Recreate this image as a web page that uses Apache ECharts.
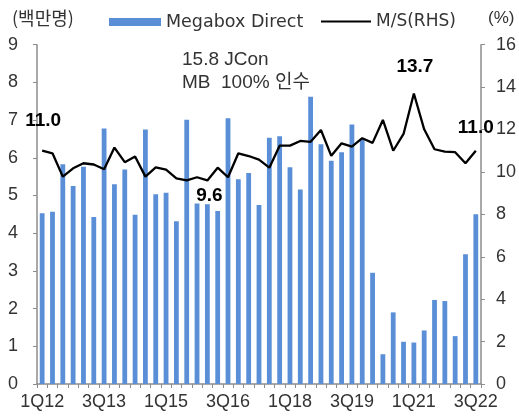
<!DOCTYPE html>
<html><head><meta charset="utf-8">
<script src="https://cdn.jsdelivr.net/npm/echarts@6/dist/echarts.min.js"></script>
<style>html,body{margin:0;padding:0;background:#fff}#c{width:519px;height:417px}</style>
</head><body><div id="c"></div>
<script>
const categories = ['1Q12','2Q12','3Q12','4Q12','1Q13','2Q13','3Q13','4Q13','1Q14','2Q14','3Q14','4Q14',
 '1Q15','2Q15','3Q15','4Q15','1Q16','2Q16','3Q16','4Q16','1Q17','2Q17','3Q17','4Q17',
 '1Q18','2Q18','3Q18','4Q18','1Q19','2Q19','3Q19','4Q19','1Q20','2Q20','3Q20','4Q20',
 '1Q21','2Q21','3Q21','4Q21','1Q22','2Q22','3Q22'];
const megaboxDirect = [4.53,4.57,5.83,5.25,5.76,4.43,6.78,5.30,5.69,4.49,6.75,5.03,
 5.07,4.32,7.01,4.79,4.77,4.59,7.05,5.43,5.60,4.75,6.53,6.57,
 5.75,5.16,7.62,6.36,5.92,6.15,6.88,6.50,2.95,0.79,1.90,1.12,
 1.10,1.42,2.23,2.20,1.27,3.44,4.50];
const marketShare = [11.0,10.88,9.78,10.17,10.41,10.35,10.13,11.15,10.46,10.73,9.78,10.22,
 10.11,9.70,9.6,9.75,9.6,10.20,9.75,10.88,10.75,10.58,10.20,11.24,
 11.24,11.46,11.42,11.98,10.76,11.35,11.19,11.59,11.37,12.45,11.0,11.79,
 13.7,12.01,11.07,10.96,10.93,10.41,11.0];
const labeledPoints = [0,16,36,42];
const leftTicks = [0,1,2,3,4,5,6,7,8,9];
const rightTicks = [0,2,4,6,8,10,12,14,16];

const labelOffsets = {0:['top',[1,-15]],16:['bottom',[2,1]],36:['top',[1,-12]],42:['top',[0,-8]]};
const lineData = marketShare.map((v,i)=>{
  if(labeledPoints.indexOf(i)<0) return v;
  const o = labelOffsets[i];
  return {value:v,label:{show:true,position:o[0],offset:o[1]}};
});
const AX='#8c8c8c';
const chart = echarts.init(document.getElementById('c'));
chart.setOption({
  animation:false,
  grid:{left:37,right:35,top:44.7,bottom:33,containLabel:false},
  legend:[
    {data:['Megabox Direct'],left:104,top:8,itemWidth:52,itemHeight:8,icon:'rect',
     textStyle:{fontFamily:'DejaVu Sans',fontSize:17.5,color:'#333'},itemGap:6},
    {data:['M/S(RHS)'],left:316,top:8,itemWidth:50,itemHeight:2,icon:'rect',
     itemStyle:{color:'#000'},
     textStyle:{fontFamily:'DejaVu Sans',fontSize:17,color:'#333'},itemGap:6}
  ],
  graphic:[
    {type:'text',left:12,top:9,style:{text:'(백만명)',font:'18px "Noto Sans CJK KR"',fill:'#333'}},
    {type:'text',left:488,top:10,style:{text:'(%)',font:'17px "Liberation Sans"',fill:'#333'}},
    {type:'text',left:182,top:48,style:{text:'15.8 JCon\nMB  100% 인수',font:'19px "Liberation Sans","Noto Sans CJK KR"',lineHeight:23,fill:'#333'}}
  ],
  xAxis:{type:'category',data:categories,boundaryGap:true,
    axisLine:{lineStyle:{color:AX,width:1.5}},
    axisTick:{show:true,interval:0,length:4,lineStyle:{color:AX}},
    axisLabel:{interval:5,margin:9,fontFamily:'Liberation Sans',fontSize:18,color:'#333'}},
  yAxis:[
    {type:'value',min:0,max:9,interval:1,
     axisLine:{show:true,lineStyle:{color:AX,width:1.5}},
     axisTick:{show:true,length:4,lineStyle:{color:AX}},
     splitLine:{show:false},
     axisLabel:{margin:19,fontFamily:'Liberation Sans',fontSize:18,color:'#333',
       formatter:v=>leftTicks.indexOf(v)>=0?String(v):''}},
    {type:'value',min:0,max:16,interval:2,position:'right',
     axisLine:{show:true,lineStyle:{color:AX,width:1.5}},
     axisTick:{show:true,length:4,lineStyle:{color:AX}},
     splitLine:{show:false},
     axisLabel:{margin:15,fontFamily:'Liberation Sans',fontSize:18,color:'#333',
       formatter:v=>rightTicks.indexOf(v)>=0?String(v):''}}
  ],
  series:[
    {name:'Megabox Direct',type:'bar',data:megaboxDirect,barWidth:4.8,
     itemStyle:{color:'#5a8fd8'}},
    {name:'M/S(RHS)',type:'line',yAxisIndex:1,data:lineData,showSymbol:true,symbol:'circle',symbolSize:0,
     lineStyle:{color:'#000',width:2.3},itemStyle:{color:'#000'},
     label:{show:false,fontFamily:'Liberation Sans',fontWeight:'bold',fontSize:19,color:'#000',
       formatter:p=>Number(p.value).toFixed(1)}}
  ]
});
</script></body></html>
